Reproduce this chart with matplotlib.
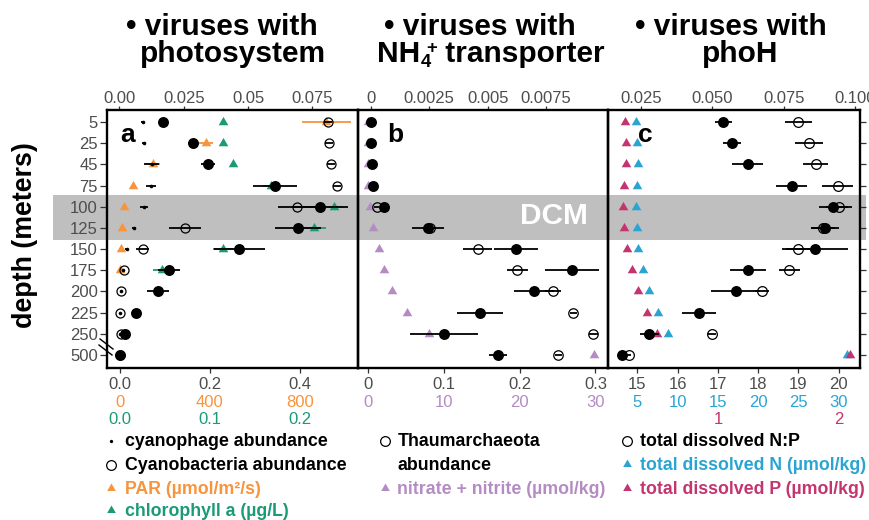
import matplotlib
matplotlib.use('Agg')
import matplotlib.pyplot as plt
import matplotlib.transforms as mtrans
from matplotlib.lines import Line2D
from matplotlib.patches import Rectangle
import numpy as np

plt.rcParams['font.family'] = ['Liberation Sans', 'DejaVu Sans']

nan = np.nan

# ---------------- data ----------------
depths = ['5', '25', '45', '75', '100', '125', '150', '175', '200', '225', '250', '500']

# panel a : viruses with photosystem
photo_virus = [0.0168, 0.0287, 0.0345, 0.0604, 0.0779, 0.0693, 0.0466, 0.0194, 0.0148, 0.0064, 0.0021, 0.0002]
photo_virus_err = [0.0016, 0.0020, 0.0027, 0.0087, 0.0110, 0.0090, 0.0100, 0.0043, 0.0043, 0.0010, 0.0008, 0.0]
cyanophage = [0.050, 0.053, 0.070, 0.068, 0.054, 0.031, 0.015, 0.0074, 0.0022, 0.0007, 0.0007, 0.0]
cyanophage_err = [0.004, 0.004, 0.017, 0.011, 0.009, 0.004, 0.003, 0.0, 0.0, 0.0, 0.0, 0.0]
cyanobacteria = [0.463, 0.465, 0.468, 0.483, 0.393, 0.144, 0.050, 0.009, 0.0015, 0.0, 0.0015, 0.0]
cyanobacteria_err = [0.009, 0.009, 0.009, 0.009, 0.043, 0.035, 0.015, 0.0, 0.0, 0.0, 0.0, 0.0]
par = [916, 382, 148, 56, 19, 7.6, 3, 0.5, nan, nan, nan, nan]
par_err = [109, 33, 31, 9, 0, 0, 0, 0, 0, 0, 0, 0]
chl = [0.1148, 0.1148, 0.1259, 0.1674, 0.2378, 0.2156, 0.1141, 0.047, nan, nan, nan, nan]
chl_err = [0.0, 0.0, 0.0, 0.008, 0.010, 0.013, 0.011, 0.010, 0, 0, 0, 0]

# panel b : viruses with NH4+ transporter
nh4_virus = [0.00001, 0.00001, 0.00004, 0.00009, 0.00058, 0.00246, 0.00621, 0.00862, 0.00698, 0.00467, 0.00313, 0.00545]
nh4_virus_err = [0, 0, 0, 0, 0.00013, 0.00068, 0.00093, 0.00115, 0.00087, 0.00097, 0.00145, 0.00038]
thaum = [nan, nan, nan, nan, 0.011, 0.0815, 0.1445, 0.197, 0.244, 0.271, 0.297, 0.251]
thaum_err = [0, 0, 0, 0, 0.003, 0.008, 0.019, 0.014, 0.010, 0.005, 0.006, 0.005]
nitrate = [0.02, 0.02, 0.02, 0.02, 0.22, 0.58, 1.41, 2.11, 3.09, 5.07, 8.02, 29.85]

# panel c : viruses with phoH
phoh_virus = [0.0538, 0.0568, 0.0624, 0.0778, 0.0924, 0.0895, 0.0860, 0.0626, 0.0582, 0.0454, 0.0279, 0.0182]
phoh_virus_err = [0.0030, 0.0032, 0.0054, 0.0055, 0.0051, 0.0049, 0.0116, 0.0063, 0.0085, 0.0060, 0.0033, 0.0]
np_ratio = [19.00, 19.27, 19.43, 19.98, 20.02, 19.61, 19.00, 18.78, 18.10, nan, 16.85, 14.80]
np_ratio_err = [0.34, 0.34, 0.32, 0.38, 0.32, 0.30, 0.30, 0.26, 0.17, 0, 0.10, 0.05]
tdn = [4.81, 4.98, 5.02, 4.98, 4.81, 4.90, 5.10, 5.72, 6.47, 7.51, 8.76, 31.0]
tdp = [0.230, 0.235, 0.235, 0.221, 0.211, 0.221, 0.244, 0.285, 0.335, 0.410, 0.493, 2.095]

# tick values / labels
a_top_ticks = [0, 0.025, 0.05, 0.075]; a_top_labels = ['0.00', '0.025', '0.05', '0.075']
a_bot_ticks = [0, 0.2, 0.4]; a_bot_labels = ['0.0', '0.2', '0.4']
par_ticks = [0, 400, 800]; par_labels = ['0', '400', '800']
chl_ticks = [0, 0.1, 0.2]; chl_labels = ['0.0', '0.1', '0.2']
b_top_ticks = [0, 0.0025, 0.005, 0.0075]; b_top_labels = ['0', '0.0025', '0.005', '0.0075']
b_bot_ticks = [0, 0.1, 0.2, 0.3]; b_bot_labels = ['0', '0.1', '0.2', '0.3']
nit_ticks = [0, 10, 20, 30]; nit_labels = ['0', '10', '20', '30']
c_top_ticks = [0.025, 0.05, 0.075, 0.1]; c_top_labels = ['0.025', '0.050', '0.075', '0.100']
c_bot_ticks = [15, 16, 17, 18, 19, 20]; c_bot_labels = ['15', '16', '17', '18', '19', '20']
tdn_ticks = [5, 10, 15, 20, 25, 30]; tdn_labels = ['5', '10', '15', '20', '25', '30']
tdp_ticks = [1, 2]; tdp_labels = ['1', '2']

# ---------------- style ----------------
ORANGE = '#F7943C'
GREEN = '#1A9A76'
PURPLE = '#B48CC3'
BLUE = '#2AA5D3'
PINK = '#C4356F'
GRAYTXT = '#4D4D4D'
BAND = '#BEBFBE'

W, H = 870, 520
TOP_PX, BOT_PX = 110.0, 367.5
PANEL_PX = {'a': (107.5, 358.0), 'b': (358.0, 608.0), 'c': (608.0, 860.0)}

# axis scales: (pixel of zero, pixels per unit)
SC = {
    'a_main': (120.0, 450.0), 'a_top': (119.5, 2573.0), 'a_par': (120.0, 0.225), 'a_chl': (120.0, 900.0),
    'b_main': (368.3, 757.0), 'b_top': (370.7, 23400.0), 'b_nit': (368.3, 7.57),
    'c_main': (34.5, 40.2), 'c_top': (569.7, 2853.0), 'c_n': (597.3, 8.04), 'c_p': (597.3, 120.6),
}


def mapper(src, dst):
    s0, sp = SC[src]
    d0, dp = SC[dst]
    return lambda v: (s0 + sp * np.asarray(v, dtype=float) - d0) / dp


tri = [(0, 1), (-0.866, -0.5), (0.866, -0.5)]

fig = plt.figure(figsize=(W / 100, H / 100), dpi=100)
ypos = np.arange(len(depths))
YLIM = (11.59, -0.567)

axes = {}
for key, (l, r) in PANEL_PX.items():
    ax = fig.add_axes([l / W, 1 - BOT_PX / H, (r - l) / W, (BOT_PX - TOP_PX) / H])
    m0, mp = SC[key + '_main']
    ax.set_xlim((l - m0) / mp, (r - m0) / mp)
    ax.set_ylim(*YLIM)
    ax.set_facecolor('none')
    for s in ax.spines.values():
        s.set_linewidth(1.7)
        s.set_color('black')
    ax.set_yticks(ypos)
    ax.tick_params(axis='y', left=False, right=False, labelleft=False)
    ax.tick_params(axis='x', bottom=True, top=False, labelbottom=False, length=3.5,
                   width=0.9, color='#333333', direction='out')
    axes[key] = ax

axA, axB, axC = axes['a'], axes['b'], axes['c']
axA.set_yticks(ypos, depths)
axA.tick_params(axis='y', left=True, labelleft=True, length=5, width=0.9, color='#333333',
                labelsize=12, labelcolor=GRAYTXT, pad=2)
axC.tick_params(axis='y', right=True, labelright=False, length=4, width=0.9, color='#333333')

# gray DCM band spanning whole figure width
band_tr = mtrans.blended_transform_factory(fig.transFigure, axA.transData)
fig.add_artist(Rectangle((53 / W, 3.45), (866 - 53) / W, 2.1, transform=band_tr,
                         facecolor=BAND, edgecolor='none', zorder=-1))

EB = dict(capsize=0, elinewidth=1.3, linestyle='none')

# ---------- panel a ----------
f = mapper('a_par', 'a_main')
axA.errorbar(f(par), ypos, xerr=np.asarray(par_err) / 2000, fmt='none', ecolor=ORANGE, zorder=2, **EB)
axA.plot(f(par), ypos, linestyle='none', marker=tri, ms=8, color=ORANGE, mew=0, zorder=2)
f = mapper('a_chl', 'a_main')
axA.errorbar(f(chl), ypos, xerr=np.asarray(chl_err) * 2, fmt='none', ecolor=GREEN, zorder=2.1, **EB)
axA.plot(f(chl), ypos, linestyle='none', marker=tri, ms=8, color=GREEN, mew=0, zorder=2.1)
axA.errorbar(cyanobacteria, ypos, xerr=cyanobacteria_err, fmt='o', ms=6.5, mfc='none', mec='black',
             mew=0.9, ecolor='black', zorder=3, **EB)
axA.errorbar(cyanophage, ypos, xerr=cyanophage_err, fmt='o', ms=2.6, color='black', mew=0,
             ecolor='black', zorder=3.5, **EB)
f = mapper('a_top', 'a_main')
axA.errorbar(f(photo_virus), ypos, xerr=np.asarray(photo_virus_err) * SC['a_top'][1] / SC['a_main'][1],
             fmt='o', ms=7.9, color='black', mew=0, ecolor='black', zorder=4, **EB)

# ---------- panel b ----------
f = mapper('b_nit', 'b_main')
axB.plot(f(nitrate), ypos, linestyle='none', marker=tri, ms=8, color=PURPLE, mew=0, zorder=2)
axB.errorbar(thaum, ypos, xerr=thaum_err, fmt='o', ms=6.8, mfc='none', mec='black', mew=0.9,
             ecolor='black', zorder=3, **EB)
f = mapper('b_top', 'b_main')
axB.errorbar(f(nh4_virus), ypos, xerr=np.asarray(nh4_virus_err) * SC['b_top'][1] / SC['b_main'][1],
             fmt='o', ms=7.9, color='black', mew=0, ecolor='black', zorder=4, **EB)

# ---------- panel c ----------
f = mapper('c_n', 'c_main')
axC.plot(f(tdn), ypos, linestyle='none', marker=tri, ms=8, color=BLUE, mew=0, zorder=2)
f = mapper('c_p', 'c_main')
axC.plot(f(tdp), ypos, linestyle='none', marker=tri, ms=8, color=PINK, mew=0, zorder=2.1)
axC.errorbar(np_ratio, ypos, xerr=np_ratio_err, fmt='o', ms=7.0, mfc='none', mec='black', mew=0.9,
             ecolor='black', zorder=3, **EB)
f = mapper('c_top', 'c_main')
axC.errorbar(f(phoh_virus), ypos, xerr=np.asarray(phoh_virus_err) * SC['c_top'][1] / SC['c_main'][1],
             fmt='o', ms=7.9, color='black', mew=0, ecolor='black', zorder=4, **EB)

# ---------- axis ticks and labels ----------
PT = 0.72  # px -> pt at 100 dpi


def bottom_row(ax, key_src, key_main, ticks, labels, color, row, draw_ticks=False):
    f = mapper(key_src, key_main)
    off = [21.5, 39.2, 56.5][row] * PT
    for t, lab in zip(ticks, labels):
        ax.annotate(lab, xy=(float(f(t)), 0), xycoords=('data', 'axes fraction'),
                    xytext=(0, -off), textcoords='offset points', ha='center', va='baseline',
                    fontsize=12, color=color, annotation_clip=False)
    if draw_ticks:
        ax.set_xticks([float(f(t)) for t in ticks])


def top_row(ax, key_src, key_main, ticks, labels):
    fwd = mapper(key_main, key_src)
    inv = mapper(key_src, key_main)
    sec = ax.secondary_xaxis('top', functions=(fwd, inv))
    sec.set_xticks(ticks)
    sec.tick_params(axis='x', length=3, width=0.9, color='#333333', labeltop=False, direction='out')
    for s in sec.spines.values():
        s.set_visible(False)
    for t, lab in zip(ticks, labels):
        ax.annotate(lab, xy=(float(inv(t)), 1), xycoords=('data', 'axes fraction'),
                    xytext=(0, 6.7 * PT), textcoords='offset points', ha='center', va='baseline',
                    fontsize=12, color=GRAYTXT, annotation_clip=False)


bottom_row(axA, 'a_main', 'a_main', a_bot_ticks, a_bot_labels, GRAYTXT, 0, True)
bottom_row(axA, 'a_par', 'a_main', par_ticks, par_labels, ORANGE, 1)
bottom_row(axA, 'a_chl', 'a_main', chl_ticks, chl_labels, GREEN, 2)
top_row(axA, 'a_top', 'a_main', a_top_ticks, a_top_labels)

bottom_row(axB, 'b_main', 'b_main', b_bot_ticks, b_bot_labels, GRAYTXT, 0, True)
bottom_row(axB, 'b_nit', 'b_main', nit_ticks, nit_labels, PURPLE, 1)
top_row(axB, 'b_top', 'b_main', b_top_ticks, b_top_labels)

bottom_row(axC, 'c_main', 'c_main', c_bot_ticks, c_bot_labels, GRAYTXT, 0, True)
bottom_row(axC, 'c_n', 'c_main', tdn_ticks, tdn_labels, BLUE, 1)
bottom_row(axC, 'c_p', 'c_main', tdp_ticks, tdp_labels, PINK, 2)
top_row(axC, 'c_top', 'c_main', c_top_ticks, c_top_labels)


def ftext(x, y, s, **kw):
    return fig.text(x / W, 1 - y / H, s, **kw)


# panel letters
for (x, s) in [(128, 'a'), (395, 'b'), (645, 'c')]:
    ftext(x, 142.5, s, ha='center', va='baseline', fontsize=19, fontweight='bold')

ftext(554, 216, 'DCM', ha='center', va='center', fontsize=21.5, fontweight='bold', color='white')

# titles
TFS = 21.5
ftext(221.5, 35, '\u2022 viruses with', ha='center', va='baseline', fontsize=TFS, fontweight='bold')
ftext(233, 62, 'photosystem', ha='center', va='baseline', fontsize=TFS, fontweight='bold')
ftext(480, 35, '\u2022 viruses with', ha='center', va='baseline', fontsize=TFS, fontweight='bold')
# NH4+ built from pieces: "NH", subscript 4, superscript +, " transporter"
fig.canvas.draw()
rend = fig.canvas.get_renderer()
pieces = [('NH', TFS, 0.0), ('4', TFS * 0.62, 5.0), ('+', TFS * 0.62, -9.5), (' transporter', TFS, 0.0)]
tmp_widths = []
for s, fs, dy in pieces:
    t = fig.text(0, 0, s, fontsize=fs, fontweight='bold')
    tmp_widths.append(t.get_window_extent(renderer=rend).width)
    t.remove()
# "4" and "+" overlap horizontally a little (like stacked indices)
adv = [tmp_widths[0], tmp_widths[1] * 0.55, tmp_widths[2], tmp_widths[3]]
total = sum(adv)
x = 491 - total / 2
for (s, fs, dy), a in zip(pieces, adv):
    ftext(x, 62 + dy, s, ha='left', va='baseline', fontsize=fs, fontweight='bold')
    x += a
ftext(730.5, 35, '\u2022 viruses with', ha='center', va='baseline', fontsize=TFS, fontweight='bold')
ftext(740.5, 62, 'phoH', ha='center', va='baseline', fontsize=TFS, fontweight='bold')

# y label
ftext(25, 235, 'depth (meters)', rotation=90, ha='center', va='center', fontsize=19.3, fontweight='bold')

# axis break marks
for (x0, y0, x1, y1) in [(100, 339, 113, 349), (99, 345, 112, 355)]:
    fig.add_artist(Line2D([x0 / W, x1 / W], [1 - y0 / H, 1 - y1 / H], color='black', lw=1.0,
                          transform=fig.transFigure))

# legend
LFS = 12.8


def leg_marker(x, y, **kw):
    fig.add_artist(Line2D([x / W], [1 - y / H], linestyle='none', transform=fig.transFigure, **kw))


def leg_text(x, y, s, color='black'):
    ftext(x, y + 5.5, s, ha='left', va='baseline', fontsize=LFS, fontweight='bold', color=color)


LTRI = 7.2
leg_marker(111, 441, marker='o', ms=2.4, color='black', mew=0)
leg_text(125, 441, 'cyanophage abundance')
leg_marker(111, 465, marker='o', ms=7, mfc='none', mec='black', mew=0.9)
leg_text(125, 465, 'Cyanobacteria abundance')
leg_marker(111, 488, marker=tri, ms=LTRI, color=ORANGE, mew=0)
leg_text(125, 489, 'PAR (\u00b5mol/m\u00b2/s)', ORANGE)
leg_marker(111, 510, marker=tri, ms=LTRI, color=GREEN, mew=0)
leg_text(125, 511, 'chlorophyll a (\u00b5g/L)', GREEN)

leg_marker(385, 441, marker='o', ms=7, mfc='none', mec='black', mew=0.9)
leg_text(397.5, 441, 'Thaumarchaeota')
leg_text(397.5, 465, 'abundance')
leg_marker(385, 488, marker=tri, ms=LTRI, color=PURPLE, mew=0)
leg_text(397.5, 489, 'nitrate + nitrite (\u00b5mol/kg)', PURPLE)

leg_marker(627.5, 441, marker='o', ms=7, mfc='none', mec='black', mew=0.9)
leg_text(640, 441, 'total dissolved N:P')
leg_marker(627.5, 464, marker=tri, ms=LTRI, color=BLUE, mew=0)
leg_text(640, 465, 'total dissolved N (\u00b5mol/kg)', BLUE)
leg_marker(627.5, 488, marker=tri, ms=LTRI, color=PINK, mew=0)
leg_text(640, 489, 'total dissolved P (\u00b5mol/kg)', PINK)

fig.savefig('out.png', dpi=100)
